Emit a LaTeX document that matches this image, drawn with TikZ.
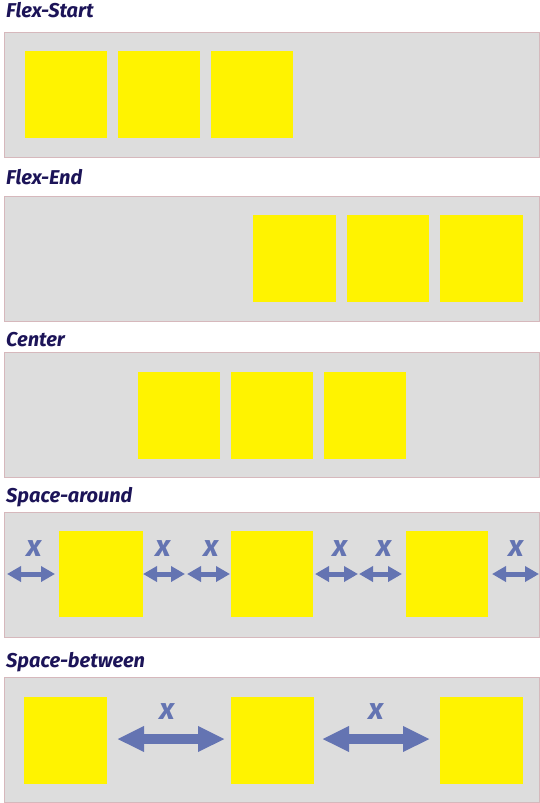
\documentclass[tikz,border=0pt]{standalone}
\usepackage{fontspec}
\setmainfont{Fira Sans}
\usetikzlibrary{arrows.meta}
\definecolor{panelfill}{RGB}{221,221,221}
\definecolor{panelline}{RGB}{214,184,188}
\definecolor{boxyellow}{RGB}{255,243,0}
\definecolor{arrowblue}{RGB}{100,116,178}
\definecolor{titlenavy}{RGB}{28,20,88}
\tikzset{
  panel/.style={fill=panelfill,draw=panelline,line width=0.8pt},
  ybox/.style={fill=boxyellow},
  title/.style={anchor=base west,inner sep=0pt,text=titlenavy,font=\fontsize{20}{22}\selectfont\itshape\bfseries},
  xlabel/.style={inner sep=0pt,text=arrowblue,font=\fontsize{30}{30}\selectfont\itshape\bfseries},
  smallarrow/.style={draw=arrowblue,line width=5pt,{Triangle[length=14pt,width=15pt]}-{Triangle[length=14pt,width=15pt]}},
  bigarrow/.style={draw=arrowblue,line width=10pt,{Triangle[length=27pt,width=24pt]}-{Triangle[length=27pt,width=24pt]}}
}
\begin{document}
\begin{tikzpicture}[x=1pt,y=-1pt]
\useasboundingbox (0,0) rectangle (540,803);
% Flex-Start
\node[title] (t1) at (6,17) {Flex-Start};
\path[panel] (4,32) rectangle (539,157);
\path[ybox] (25,51) rectangle (107,138);
\path[ybox] (118,51) rectangle (200,138);
\path[ybox] (211,51) rectangle (293,138);
% Flex-End
\node[title] (t2) at (6,184) {Flex-End};
\path[panel] (4,196) rectangle (539,321);
\path[ybox] (253,215) rectangle (336,302);
\path[ybox] (347,215) rectangle (429,302);
\path[ybox] (440,215) rectangle (523,302);
% Center
\node[title] (t3) at (6,346) {Center};
\path[panel] (4,352) rectangle (539,477);
\path[ybox] (138,372) rectangle (220,459);
\path[ybox] (231,372) rectangle (313,459);
\path[ybox] (324,372) rectangle (406,459);
% Space-around
\node[title] (t4) at (6,502) {Space-around};
\path[panel] (4,512) rectangle (539,637);
\path[ybox] (59,531) rectangle (143,617);
\path[ybox] (231,531) rectangle (313,617);
\path[ybox] (406,531) rectangle (488,617);
\coordinate (a1l) at (7,574); \coordinate (a1r) at (55,574);
\coordinate (a2l) at (143,574); \coordinate (a2r) at (185,574);
\coordinate (a3l) at (187,574); \coordinate (a3r) at (230,574);
\coordinate (a4l) at (315,574); \coordinate (a4r) at (358,574);
\coordinate (a5l) at (359,574); \coordinate (a5r) at (402,574);
\coordinate (a6l) at (492,574); \coordinate (a6r) at (539,574);
\draw[smallarrow] (a1l) -- (a1r);
\draw[smallarrow] (a2l) -- (a2r);
\draw[smallarrow] (a3l) -- (a3r);
\draw[smallarrow] (a4l) -- (a4r);
\draw[smallarrow] (a5l) -- (a5r);
\draw[smallarrow] (a6l) -- (a6r);
\node[xlabel] (x1) at (34,549) {x};
\node[xlabel] (x2) at (163,549) {x};
\node[xlabel] (x3) at (211,549) {x};
\node[xlabel] (x4) at (340,549) {x};
\node[xlabel] (x5) at (384,549) {x};
\node[xlabel] (x6) at (516,549) {x};
% Space-between
\node[title] (t5) at (6,667) {Space-between};
\path[panel] (4,677) rectangle (539,802);
\path[ybox] (24,697) rectangle (107,784);
\path[ybox] (231,697) rectangle (314,784);
\path[ybox] (440,697) rectangle (523,784);
\coordinate (b1l) at (117,739); \coordinate (b1r) at (225,739);
\coordinate (b2l) at (322,739); \coordinate (b2r) at (430,739);
\draw[bigarrow] (b1l) -- (b1r);
\draw[bigarrow] (b2l) -- (b2r);
\node[xlabel] (y1) at (167,712) {x};
\node[xlabel] (y2) at (376,712) {x};
\end{tikzpicture}
\end{document}
